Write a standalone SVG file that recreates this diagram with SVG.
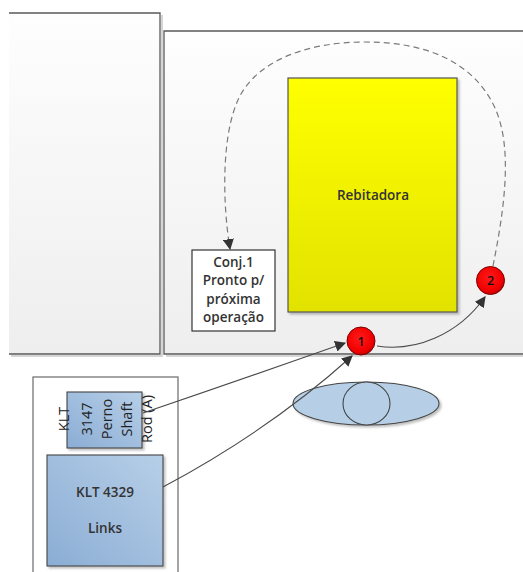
<svg xmlns="http://www.w3.org/2000/svg" width="523" height="572" viewBox="0 0 523 572">
  <defs>
    <linearGradient id="panelFill" x1="0" y1="0" x2="0" y2="1">
      <stop offset="0" stop-color="#fefefe"/>
      <stop offset="1" stop-color="#eeeeee"/>
    </linearGradient>
    <linearGradient id="yellowFill" x1="0" y1="0" x2="0" y2="1">
      <stop offset="0" stop-color="#ffff00"/>
      <stop offset="1" stop-color="#e2e200"/>
    </linearGradient>
    <linearGradient id="blueFill" x1="1" y1="0" x2="0" y2="1">
      <stop offset="0" stop-color="#b7cfe8"/>
      <stop offset="1" stop-color="#8badd4"/>
    </linearGradient>
    <radialGradient id="redFill" cx="0.45" cy="0.4" r="0.6">
      <stop offset="0" stop-color="#ff1a1a"/>
      <stop offset="0.8" stop-color="#f00000"/>
      <stop offset="1" stop-color="#c00000"/>
    </radialGradient>
    <marker id="arrow" viewBox="0 0 10 10" refX="9" refY="5" markerWidth="11" markerHeight="11" markerUnits="userSpaceOnUse" orient="auto">
      <path d="M0,0 L10,5 L0,10 z" fill="#333"/>
    </marker>
    <filter id="shadow" x="-5%" y="-5%" width="115%" height="115%">
      <feDropShadow dx="2" dy="2" stdDeviation="1" flood-color="#000" flood-opacity="0.25"/>
    </filter>
  </defs>
  <style>
    .panel { fill: url(#panelFill); }
    .edge { fill: none; stroke: #5a5a5a; stroke-width: 1.3; }
    .edgeShade { fill: none; stroke: #c8c8c8; stroke-width: 1.5; }
    .lbl { font-family: "Open Sans", "Liberation Sans", sans-serif; font-size: 13.5px; font-weight: 600; fill: #333333; text-anchor: middle; }
    .side { font-size: 14.5px; font-weight: 400; fill: #222222; }
    .num { font-family: "Open Sans", "Liberation Sans", sans-serif; font-size: 12.5px; font-weight: 600; fill: #111; text-anchor: middle; }
    .conn { fill: none; stroke: #4a4a4a; stroke-width: 1.1; }
    .dash { fill: none; stroke: #7a7a7a; stroke-width: 1.2; stroke-dasharray: 6 4; }
    .marker { fill: url(#redFill); stroke: #7a0000; stroke-width: 1; }
  </style>

  <rect width="523" height="572" fill="#ffffff"/>

  <!-- left storage panel -->
  <g id="panel-left">
    <rect class="panel" x="9" y="13" width="151" height="341"/>
    <path class="edgeShade" d="M162,15 V356 H11"/>
    <path class="edge" d="M9,13 H160 V354 H9"/>
  </g>

  <!-- workstation panel -->
  <g id="panel-right">
    <rect class="panel" x="164" y="31" width="360" height="323"/>
    <path class="edgeShade" d="M166,356 H524"/>
    <path class="edge" d="M524,31 H164 V354 H524"/>
  </g>

  <!-- incoming bins panel -->
  <g id="panel-bins">
    <rect x="33" y="377" width="145" height="200" fill="#ffffff" stroke="#6a6a6a" stroke-width="1.2"/>
  </g>

  <!-- riveting machine -->
  <g id="rebitadora">
    <rect x="288" y="78" width="169" height="234" fill="url(#yellowFill)" stroke="#555" stroke-width="1.2" filter="url(#shadow)"/>
    <text class="lbl" x="373" y="200">Rebitadora</text>
  </g>

  <!-- finished assembly -->
  <g id="conj1">
    <rect x="192" y="250" width="83" height="81" fill="#ffffff" stroke="#222" stroke-width="1.1"/>
    <text class="lbl" x="233.5" y="267">Conj.1</text>
    <text class="lbl" x="233.5" y="285">Pronto p/</text>
    <text class="lbl" x="233.5" y="304">próxima</text>
    <text class="lbl" x="233.5" y="322">operação</text>
  </g>

  <!-- bin KLT 3147 -->
  <g id="klt3147">
    <rect x="67" y="392" width="75" height="56" fill="url(#blueFill)" stroke="#444" stroke-width="1.1" filter="url(#shadow)"/>
    <g transform="translate(106,419) rotate(-90)">
      <text class="lbl side" x="0" y="-37">KLT</text>
      <text class="lbl side" x="0" y="-14">3147</text>
      <text class="lbl side" x="0" y="6">Perno</text>
      <text class="lbl side" x="0" y="26">Shaft</text>
      <text class="lbl side" x="0" y="46">Rod (A)</text>
    </g>
  </g>

  <!-- bin KLT 4329 -->
  <g id="klt4329">
    <rect x="47" y="455" width="116" height="111" fill="url(#blueFill)" stroke="#444" stroke-width="1.1" filter="url(#shadow)"/>
    <text class="lbl" x="105" y="497">KLT 4329</text>
    <text class="lbl" x="105" y="533">Links</text>
  </g>

  <!-- fixture -->
  <g id="fixture">
    <ellipse cx="366" cy="403.5" rx="73" ry="21.5" fill="#b7cfe6" stroke="#444" stroke-width="1.1" filter="url(#shadow)"/>
    <ellipse cx="366.5" cy="403.5" rx="23.5" ry="21.5" fill="#b7cfe6" stroke="#444" stroke-width="1.1"/>
  </g>

  <!-- connectors -->
  <g id="connectors">
    <path class="dash" d="M493,266 C503,215 514,150 495,108 C472,58 420,42 365,42 C305,42 255,62 238,100 C222,135 222,200 230,249" marker-end="url(#arrow)"/>
    <path class="conn" d="M377,346 C415,352 458,335 485,297" marker-end="url(#arrow)"/>
    <path class="conn" d="M143,413 Q240,380 345,343" marker-end="url(#arrow)"/>
    <path class="conn" d="M163,487 Q270,430 352,356" marker-end="url(#arrow)"/>
  </g>

  <!-- sequence markers -->
  <g id="step1">
    <circle class="marker" cx="361" cy="341" r="14"/>
    <text class="num" x="361" y="345.5">1</text>
  </g>
  <g id="step2">
    <circle class="marker" cx="490.5" cy="280.5" r="14"/>
    <text class="num" x="490.5" y="285">2</text>
  </g>
</svg>
